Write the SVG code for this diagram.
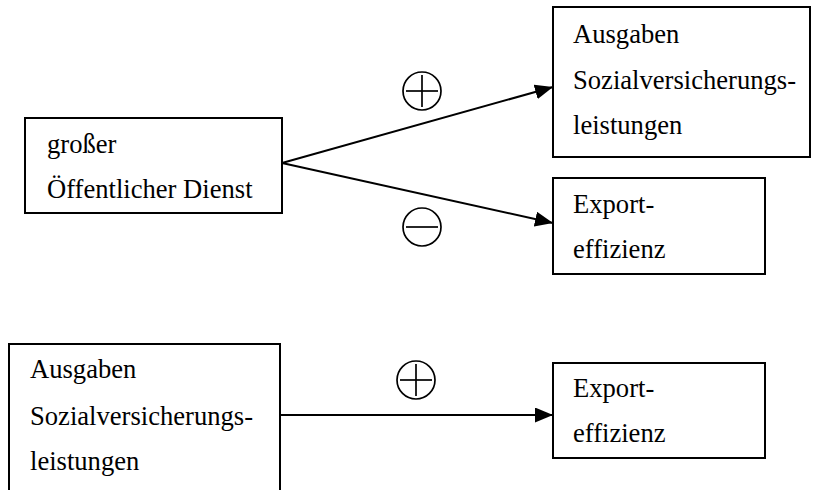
<svg xmlns="http://www.w3.org/2000/svg" width="813" height="490" viewBox="0 0 813 490">
<style>
  .box { fill: #fff; stroke: #000; stroke-width: 2; }
  .lbl { font-family: "Liberation Serif", "Times New Roman", serif; font-size: 26.6px; fill: #000; }
  .conn { stroke: #000; stroke-width: 2; fill: none; }
  .sign { fill: none; stroke: #000; stroke-width: 1.7; }
</style>
<defs>
  <marker id="arrow" viewBox="0 0 18 15" refX="18" refY="7.5" markerWidth="18" markerHeight="15" markerUnits="userSpaceOnUse" orient="auto">
    <path d="M0,0 L18,7.5 L0,15 Z" fill="#000"/>
  </marker>
</defs>
<rect width="813" height="490" fill="#fff"/>
<g id="connectors">
  <line class="conn" x1="282" y1="163" x2="553" y2="87" marker-end="url(#arrow)"/>
  <line class="conn" x1="282" y1="163" x2="553" y2="223" marker-end="url(#arrow)"/>
  <line class="conn" x1="280" y1="415" x2="553" y2="415" marker-end="url(#arrow)"/>
  <g id="sign-plus-top">
    <circle class="sign" cx="422" cy="91" r="19"/>
    <line class="sign" x1="406" y1="91" x2="438" y2="91"/>
    <line class="sign" x1="422" y1="75" x2="422" y2="107"/>
  </g>
  <g id="sign-minus">
    <circle class="sign" cx="422" cy="227" r="19"/>
    <line class="sign" x1="406" y1="227" x2="438" y2="227"/>
  </g>
  <g id="sign-plus-bottom">
    <circle class="sign" cx="416" cy="380" r="19"/>
    <line class="sign" x1="400" y1="380" x2="432" y2="380"/>
    <line class="sign" x1="416" y1="364" x2="416" y2="396"/>
  </g>
</g>
<g id="node-dienst">
  <rect class="box" x="25" y="118" width="257" height="95"/>
  <text class="lbl" x="47" y="153">großer</text>
  <text class="lbl" x="47" y="198">Öffentlicher Dienst</text>
</g>
<g id="node-ausgaben-top">
  <rect class="box" x="553" y="7" width="257" height="150"/>
  <text class="lbl" x="573" y="43">Ausgaben</text>
  <text class="lbl" x="573" y="89">Sozialversicherungs-</text>
  <text class="lbl" x="573" y="134">leistungen</text>
</g>
<g id="node-export-top">
  <rect class="box" x="553" y="178" width="212" height="96"/>
  <text class="lbl" x="573" y="213">Export-</text>
  <text class="lbl" x="573" y="258">effizienz</text>
</g>
<g id="node-ausgaben-bottom">
  <rect class="box" x="9" y="344" width="271" height="160"/>
  <text class="lbl" x="30" y="378">Ausgaben</text>
  <text class="lbl" x="30" y="425">Sozialversicherungs-</text>
  <text class="lbl" x="30" y="470">leistungen</text>
</g>
<g id="node-export-bottom">
  <rect class="box" x="553" y="363" width="212" height="95"/>
  <text class="lbl" x="573" y="397">Export-</text>
  <text class="lbl" x="573" y="442">effizienz</text>
</g>
</svg>
